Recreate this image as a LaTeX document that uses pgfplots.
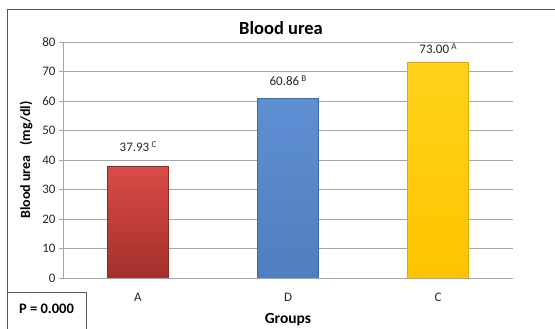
\documentclass[border=0pt]{standalone}
\usepackage{fontspec}
\setmainfont{Carlito}
\usepackage{pgfplots}
\pgfplotsset{compat=1.18}

\definecolor{gridgray}{HTML}{A6A6A6}
\definecolor{framegray}{HTML}{595959}
\definecolor{txt}{HTML}{262626}
\definecolor{redtop}{HTML}{DA4B46}
\definecolor{redbot}{HTML}{A2302C}
\definecolor{rededge}{HTML}{8C2825}
\definecolor{bluetop}{HTML}{5E8FD2}
\definecolor{bluebot}{HTML}{4F7FC0}
\definecolor{blueedge}{HTML}{3F6AA5}
\definecolor{yeltop}{HTML}{FFD21A}
\definecolor{yelbot}{HTML}{FFC400}
\definecolor{yeledge}{HTML}{E0A800}

\begin{document}
\begin{tikzpicture}[x=1pt,y=1pt]
\useasboundingbox (0,0) rectangle (555,329);
\begin{scope}
\clip (0,0) rectangle (555,329);
% chart frame, running off the right and bottom edges
\draw[framegray, line width=1pt] (7,-10) -- (7,319) -- (570,319);
% box with the test result
\draw[framegray, line width=1pt] (7,36) -- (86,36) -- (86,-10);
\node[font=\bfseries\fontsize{14.5}{16}\selectfont, text=black] at (46.5,20) {P = 0.000};

\begin{axis}[
  at={(63pt,51pt)}, anchor=south west,
  scale only axis, width=450pt, height=236pt,
  xmin=-0.5, xmax=2.5, ymin=0, ymax=80,
  ytick={0,10,...,80},
  xtick={0,1,2}, xticklabels={A,D,C},
  major x tick style={draw=none},
  extra x ticks={-0.5,0.5,1.5,2.5},
  extra x tick labels={},
  extra x tick style={major tick length=5pt, tick style={gridgray, line width=0.8pt}, tick align=outside, grid=none},
  tick align=outside,
  major tick length=4pt,
  y tick style={gridgray, line width=0.8pt},
  axis x line*=bottom, axis y line*=left,
  axis line style={gridgray, line width=0.8pt, -},
  ymajorgrids, grid style={gridgray, line width=0.8pt},
  /pgf/number format/assume math mode=true,
  ticklabel style={font=\fontsize{13}{15}\selectfont, text=txt},
  xticklabel style={yshift=-8pt},
  title={\textbf{Blood urea}},
  title style={font=\fontsize{18.5}{20}\selectfont, text=black, yshift=-2pt, xshift=-7pt},
  xlabel={\textbf{Groups}},
  xlabel style={font=\fontsize{15.5}{17}\selectfont, text=black, yshift=5pt},
  ylabel={\textbf{Blood urea\hspace{0.7em}(mg/dl)}},
  ylabel style={font=\fontsize{14}{16}\selectfont, text=black, yshift=3pt},
  ybar, bar width=0.41, bar shift=0pt,
  point meta=explicit symbolic,
  nodes near coords,
  every node near coord/.append style={font=\fontsize{13}{15}\selectfont, text=txt, anchor=base},
]
\addplot[top color=redtop, bottom color=redbot, draw=rededge, line width=0.6pt,
  every node near coord/.append style={yshift=15pt}]
  coordinates {(0,37.93) [37.93\,\raisebox{0.6ex}{\fontsize{9}{10}\selectfont C}]};
\addplot[top color=bluetop, bottom color=bluebot, draw=blueedge, line width=0.6pt,
  every node near coord/.append style={yshift=13pt}]
  coordinates {(1,60.86) [60.86\,\raisebox{0.6ex}{\fontsize{9}{10}\selectfont B}]};
\addplot[top color=yeltop, bottom color=yelbot, draw=yeledge, line width=0.6pt,
  every node near coord/.append style={yshift=9pt}]
  coordinates {(2,73.00) [73.00\,\raisebox{0.6ex}{\fontsize{9}{10}\selectfont A}]};
\end{axis}
\end{scope}
\end{tikzpicture}
\end{document}
